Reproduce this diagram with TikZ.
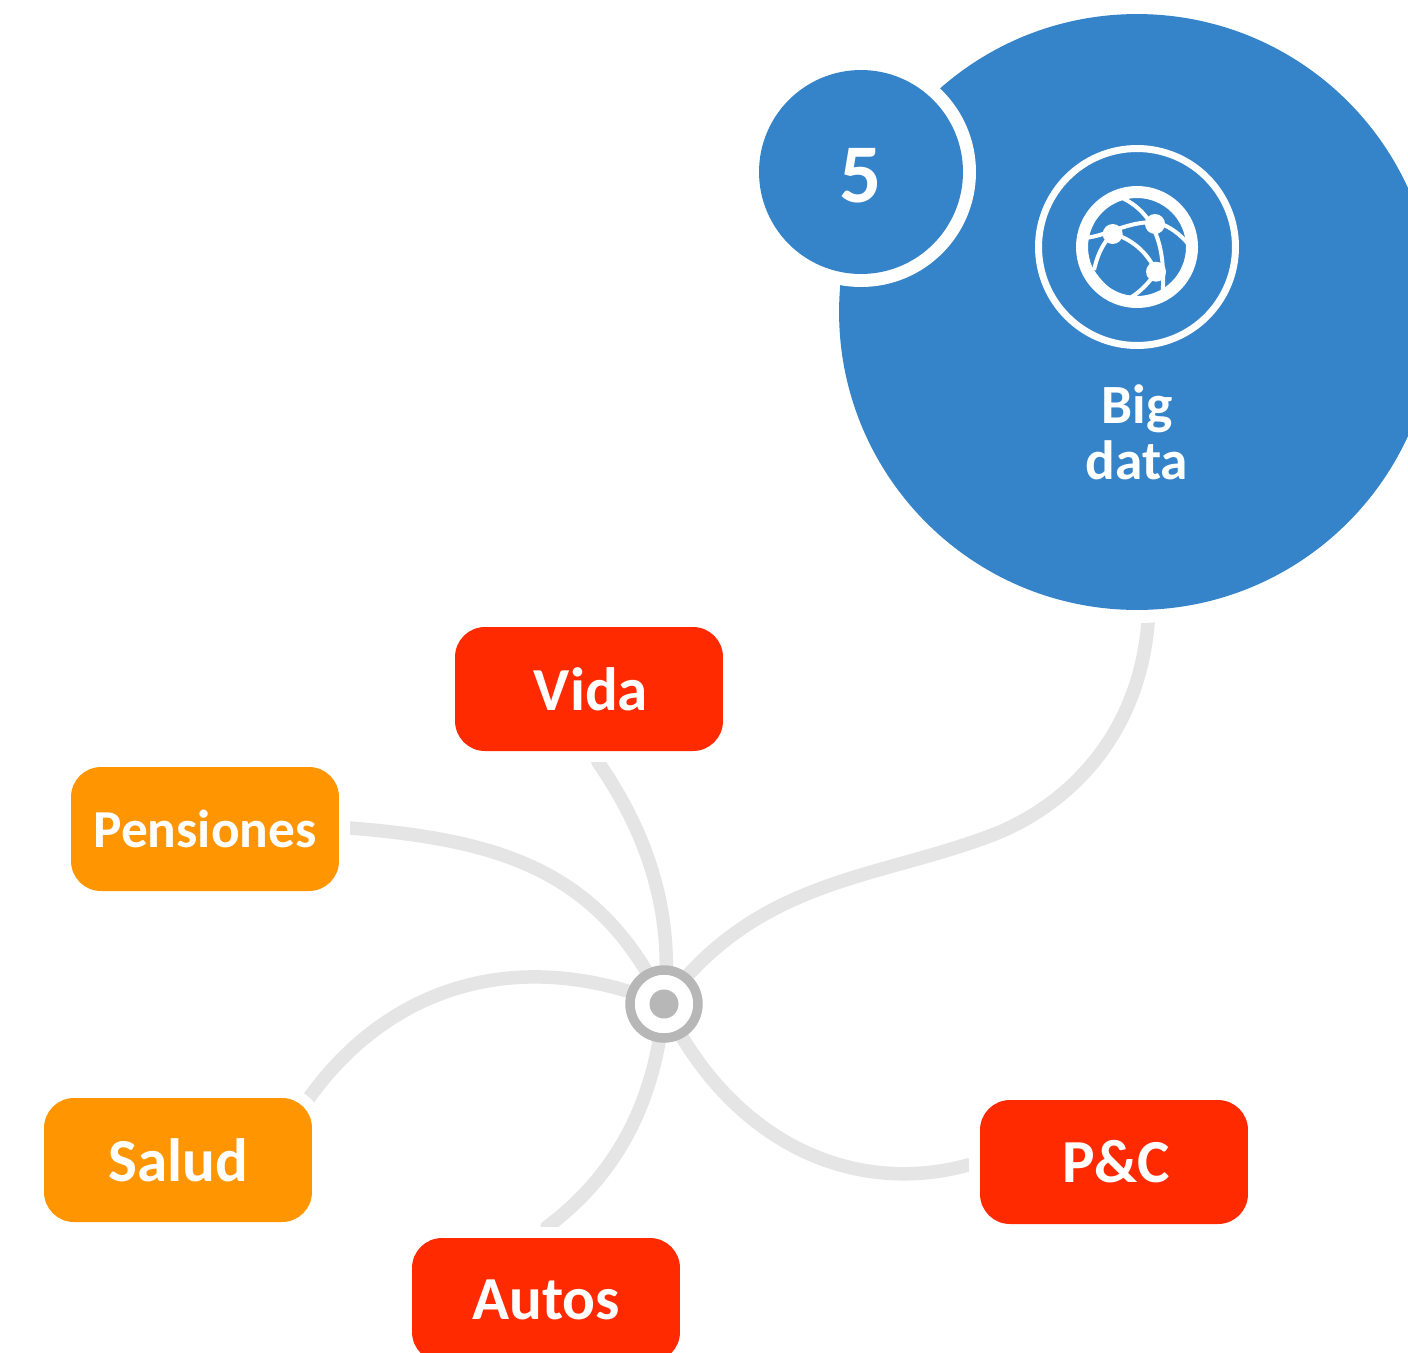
\documentclass[tikz,border=0pt]{standalone}
\usepackage{fontspec}
\setmainfont{Carlito}
\usetikzlibrary{backgrounds}
\definecolor{bigblue}{HTML}{3584C9}
\definecolor{linkgrey}{HTML}{E5E5E5}
\definecolor{hubgrey}{HTML}{B7B7B7}
\definecolor{tagred}{HTML}{FF2A00}
\definecolor{tagorange}{HTML}{FF9500}
\tikzset{
  tagbox/.style={rounded corners=0.6cm,minimum width=5.36cm,minimum height=2.48cm,inner sep=0pt,text=white,font=\bfseries\fontsize{34.8}{34.8}\selectfont,preaction={draw=white,line width=0.44cm}},
  tagredbox/.style={tagbox,fill=tagred},
  tagorangebox/.style={tagbox,fill=tagorange},
  link/.style={draw=linkgrey,line width=0.27cm,line join=round},
  iconline/.style={draw=white,line width=0.08cm},
}
\begin{document}
\begin{tikzpicture}[x=0.02cm,y=-0.02cm]
\useasboundingbox (0,0) rectangle (1408,1352);
\clip (0,0) rectangle (1408,1352);
% big circle and badge
\node[circle,fill=bigblue,minimum size=11.92cm,inner sep=0pt,preaction={draw=white,line width=0.52cm}] (big) at (1137,312) {};
\node[circle,fill=white,minimum size=4.6cm,inner sep=0pt] (badgering) at (861,172) {};
\node[circle,fill=bigblue,minimum size=4.08cm,inner sep=0pt] (badge) at (861,172) {};
\node[text=white,font=\bfseries\fontsize{47.5}{47.5}\selectfont] (badgetext) at (861,176) {5};
% icon
\node[circle,draw=white,line width=0.14cm,minimum size=3.94cm,inner sep=0pt] (iconring) at (1137,247) {};
\begin{scope}
\clip (1137,247) circle[radius=55];
\fill[white] (1094,270) .. controls (1108,292) and (1128,300) .. (1130,296) -- (1120,320) -- (1070,290) -- cycle;
\draw[iconline] (1085,238) .. controls (1110,235) and (1125,222) .. (1155,222) .. controls (1170,226) and (1180,234) .. (1190,246);
\draw[iconline] (1120,197) .. controls (1150,210) and (1168,240) .. (1162,300);
\draw[iconline] (1094,270) .. controls (1098,252) and (1105,240) .. (1113,234) .. controls (1130,238) and (1148,252) .. (1156,272) .. controls (1150,282) and (1140,292) .. (1130,298);
\end{scope}
\draw[white,line width=0.24cm] (1137,247) circle[radius=55];
\fill[white] (1112.7,234) circle[radius=10] (1155,224) circle[radius=10] (1156,271.7) circle[radius=10];
\node[text=white,font=\bfseries\fontsize{31.5}{32}\selectfont,align=center] (bigtext) at (1137,432) {Big\\[0pt]data};
% tags
\node[tagredbox] (vida) at (589,689) {\hspace*{0.08cm}\raisebox{-1.5pt}{Vida}};
\node[tagorangebox,font=\bfseries\fontsize{30.4}{30.4}\selectfont] (pens) at (205,829) {Pensiones};
\node[tagorangebox] (salud) at (178,1160) {Salud};
\node[tagredbox] (pc) at (1114,1162) {\hspace*{0.08cm}P\&C};
\node[tagredbox] (autos) at (546,1300) {Autos};
% hub
\node[circle,draw=hubgrey,fill=white,line width=0.19cm,minimum size=1.36cm,inner sep=0pt] (hub) at (664,1004) {};
\node[circle,fill=hubgrey,minimum size=0.58cm,inner sep=0pt] (hubdot) at (664,1004) {};
% where each connector leaves the hidden part behind its node
\coordinate (endbig) at (1148,623);
\coordinate (endvida) at (598,762);
\coordinate (endpens) at (350,828);
\coordinate (endsalud) at (309,1098);
\coordinate (endautos) at (547,1227);
\coordinate (endpc) at (968,1165);
\begin{scope}[on background layer]
\fill[white] (0,0) rectangle (1408,1352);
\draw[link] (big.center) -- (endbig) .. controls (1140,720) and (1085,795) .. (1000,832) .. controls (880,880) and (760,875) .. (hub.center);
\draw[link] (vida.center) -- (endvida) .. controls (645,830) and (675,910) .. (hub.center);
\draw[link] (pens.center) -- (endpens) .. controls (500,840) and (600,870) .. (hub.center);
\draw[link] (salud.center) -- (endsalud) .. controls (390,985) and (520,945) .. (hub.center);
\draw[link] (autos.center) -- (endautos) .. controls (610,1180) and (655,1110) .. (hub.center);
\draw[link] (pc.center) -- (endpc) .. controls (860,1195) and (735,1150) .. (hub.center);
\end{scope}
\end{tikzpicture}
\end{document}
